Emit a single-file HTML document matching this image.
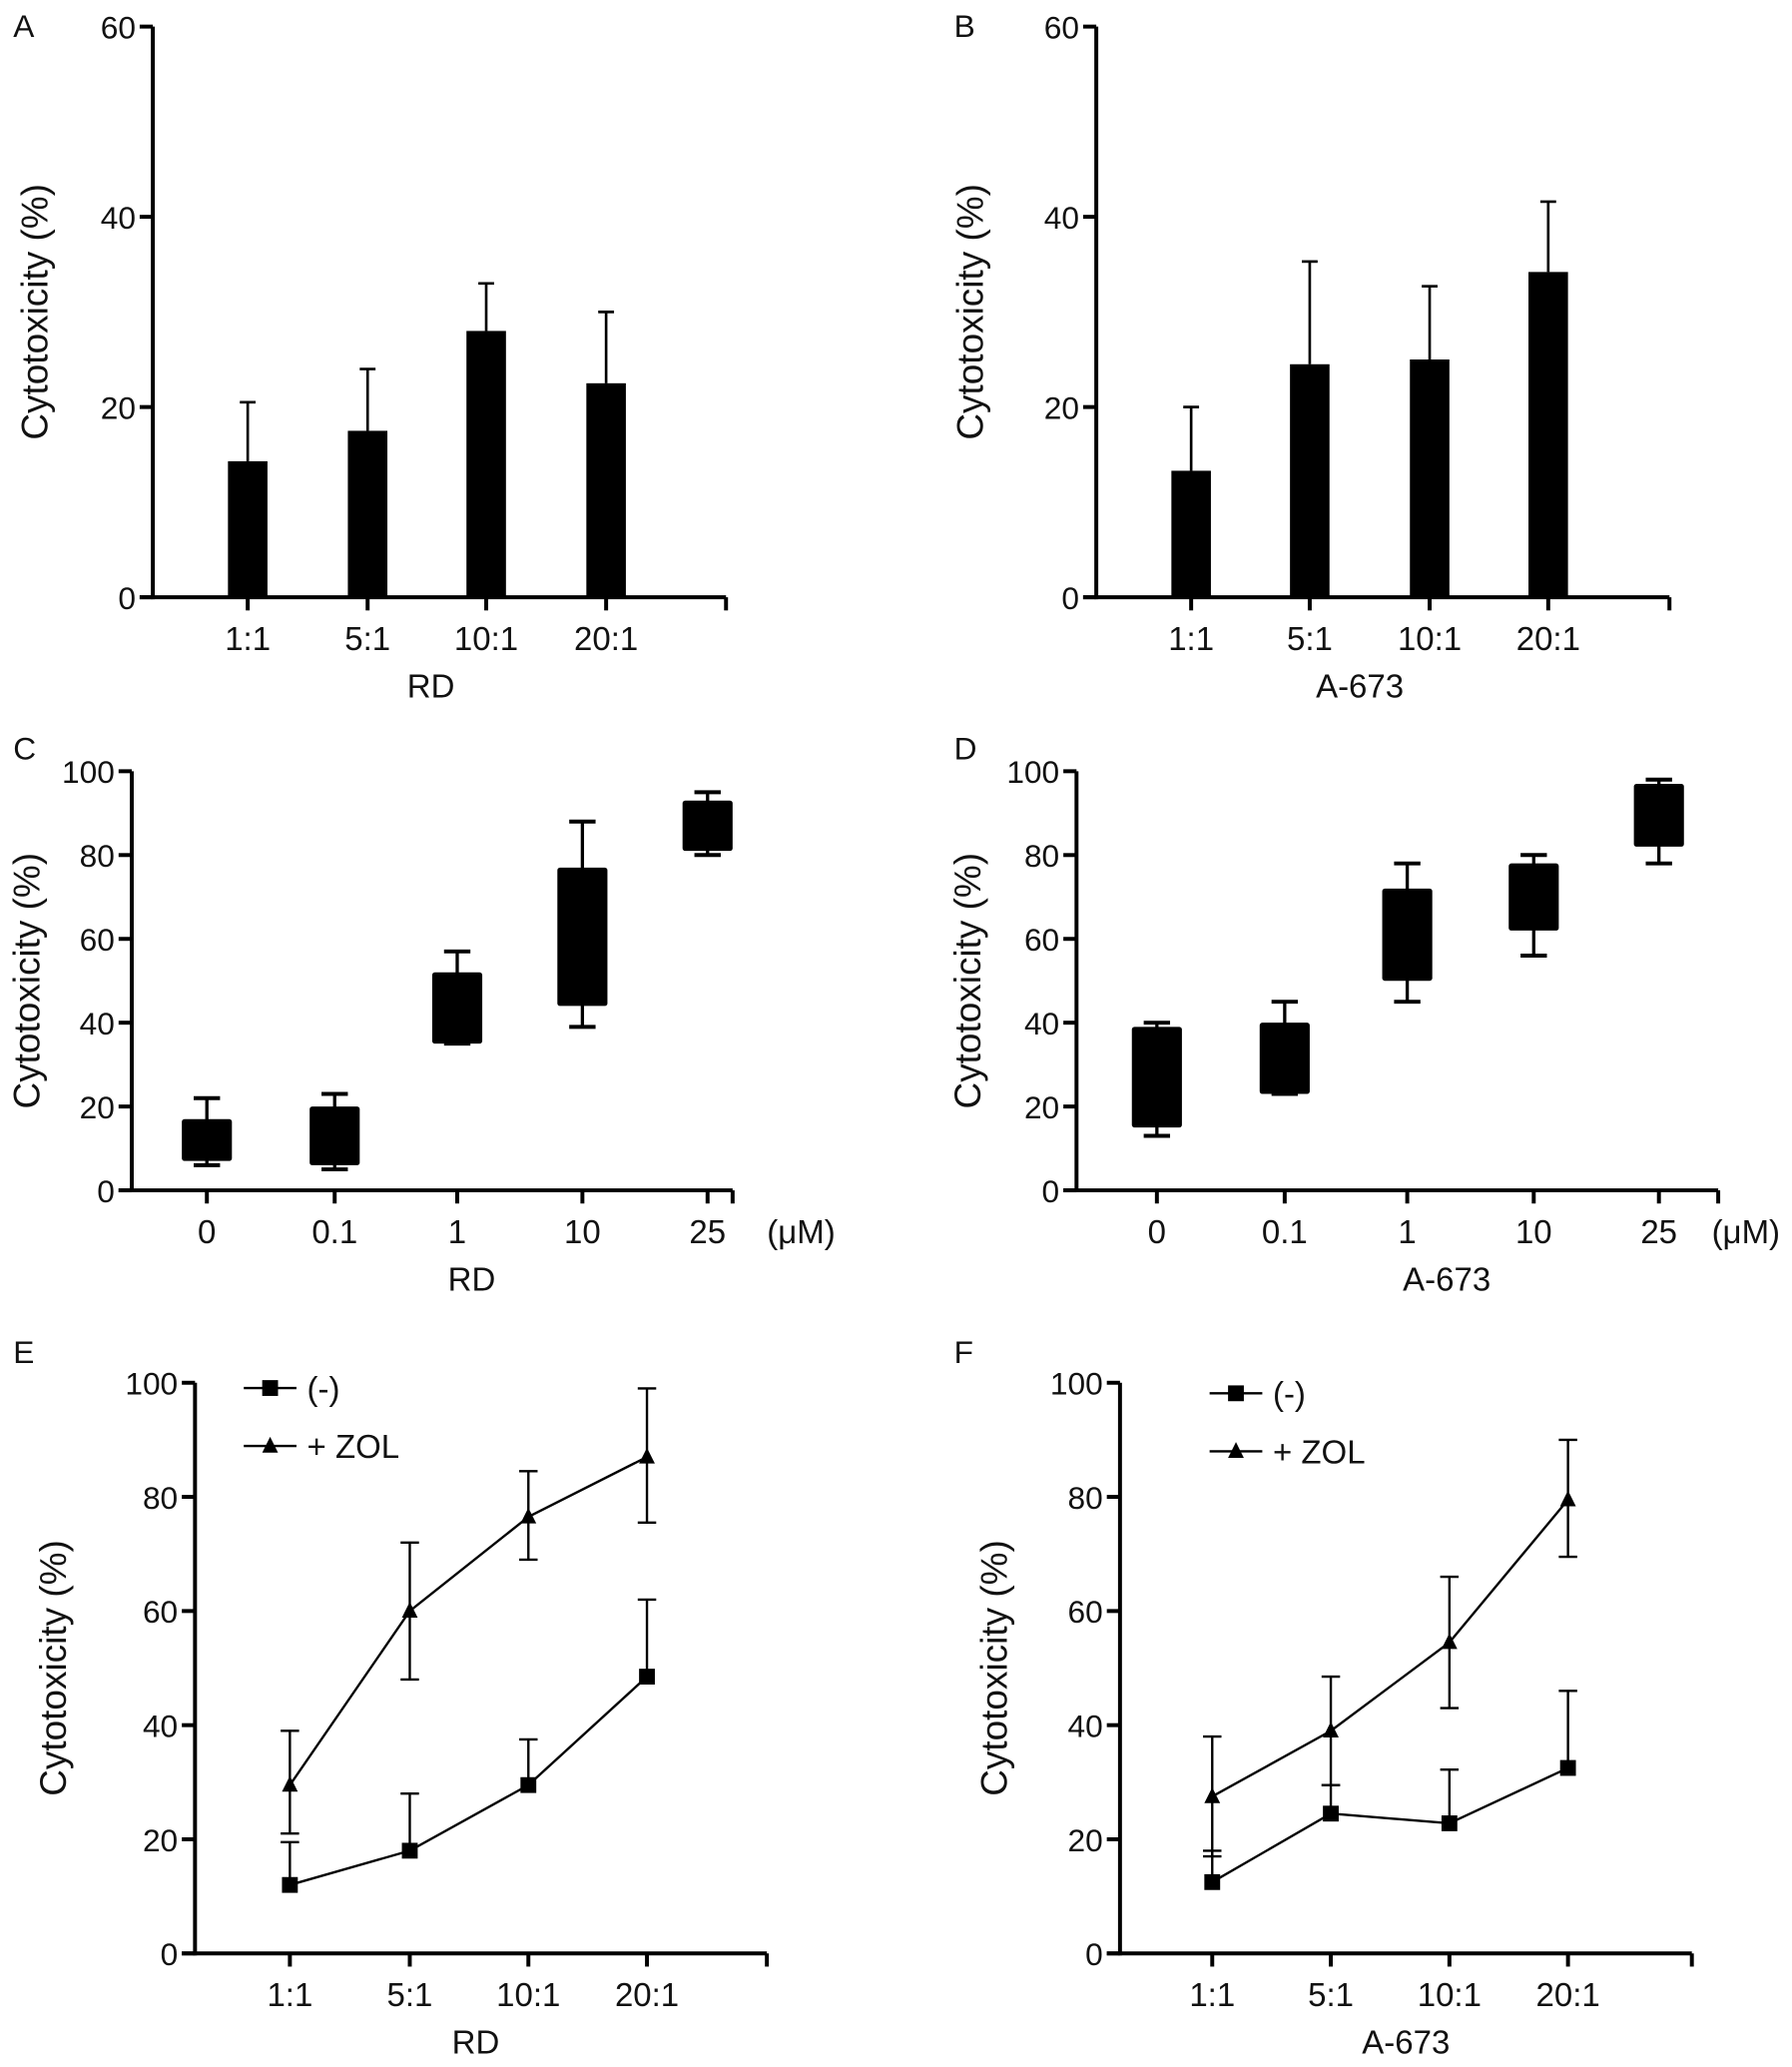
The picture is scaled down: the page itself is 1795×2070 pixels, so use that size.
<!DOCTYPE html>
<html><head><meta charset="utf-8"><style>
html,body{margin:0;padding:0;background:#fff}
svg{display:block}
text{font-family:"Liberation Sans",Arial,sans-serif;fill:#111}
</style></head><body>
<svg id="fig" width="1795" height="2070" viewBox="0 0 1360 1568" xmlns="http://www.w3.org/2000/svg"></svg>
<script>
const ratioCats = ["1:1","5:1","10:1","20:1"];
const doseCats = ["0","0.1","1","10","25"];
const barA = [14.3,17.5,28,22.5];
const barAErr = [20.5,24,33,30];
const barB = [13.3,24.5,25,34.2];
const barBErr = [20,35.3,32.7,41.6];
const boxCLow = [7,6,35,44,81];
const boxCHigh = [17,20,52,77,93];
const whiskCLow = [6,5,35,39,80];
const whiskCHigh = [22,23,57,88,95];
const boxDLow = [15,23,50,62,82];
const boxDHigh = [39,40,72,78,97];
const whiskDLow = [13,23,45,56,78];
const whiskDHigh = [40,45,78,80,98];
const lineENeg = [12,18,29.5,48.5];
const lineENegErr = [19.5,28,37.5,62];
const lineEZol = [29.5,60,76.5,87];
const lineEZolLo = [21,48,69,75.5];
const lineEZolHi = [39,72,84.5,99];
const lineFNeg = [12.5,24.5,22.8,32.5];
const lineFNegErr = [18,29.5,32.2,46];
const lineFZol = [27.5,39,54.5,79.5];
const lineFZolLo = [17,29.5,43,69.5];
const lineFZolHi = [38,48.5,66,90];
const ticks60 = [0,20,40,60];
const ticks100 = [0,20,40,60,80,100];

const svg = document.getElementById('fig');
const NS = 'http://www.w3.org/2000/svg';
function mk(tag, attrs, parent){
  const e = document.createElementNS(NS, tag);
  for (const k in attrs) e.setAttribute(k, attrs[k]);
  (parent||svg).appendChild(e); return e;
}
function txt(s, x, y, size, anchor, parent){
  const t = mk('text',{x:x,y:y,'font-size':size,'text-anchor':anchor||'middle'},parent);
  t.textContent = s; return t;
}
function axes(p){
  const g = mk('g',{});
  
  
  const y = v => p.y0 - (v/p.max)*(p.y0-p.yTop);
  const x = i => p.cx[i];
  const lab = txt(p.letter, p.lx, p.ly, 24, 'start', g);
  
  
  mk('line',{x1:p.ax,y1:p.yTop,x2:p.ax,y2:p.y0+1.5,stroke:'#000','stroke-width':3},g);
  mk('line',{x1:p.ax-10,y1:p.y0,x2:p.xEnd,y2:p.y0,stroke:'#000','stroke-width':3},g);
  mk('line',{x1:p.xEnd,y1:p.y0,x2:p.xEnd,y2:p.y0+10,stroke:'#000','stroke-width':3},g);
  p.ticks.forEach(v=>{
    mk('line',{x1:p.ax-10,y1:y(v),x2:p.ax,y2:y(v),stroke:'#000','stroke-width':3},g);
    const t = txt(String(v), p.ax-13, y(v)+9, 24, 'end', g);
    
    
  });
  p.cats.forEach((c,i)=>{
    mk('line',{x1:x(i),y1:p.y0,x2:x(i),y2:p.y0+10,stroke:'#000','stroke-width':3},g);
    const t = txt(c, x(i), p.y0+40, 25, 'middle', g);
    
    
  });
  const xt = txt(p.xtitle, p.xtx, p.y0+76, 25, 'middle', g);
  
  
  const yt = txt('Cytotoxicity (%)', 0, 0, 28, 'middle', g);
  yt.setAttribute('transform', 'translate('+p.ytx+','+((p.yTop+p.y0)/2)+') rotate(-90)');
  
  
  if (p.unit){
    const u = txt('(\u03bcM)', p.unitX, p.y0+40, 25, 'middle', g);
    
    
  }
  return {g, x, y};
}
function bars(p, vals, errs){
  const {g,x,y} = axes(p);
  vals.forEach((v,i)=>{
    mk('line',{x1:x(i),y1:y(errs[i]),x2:x(i),y2:y(v),stroke:'#000','stroke-width':2},g);
    mk('line',{x1:x(i)-6,y1:y(errs[i]),x2:x(i)+6,y2:y(errs[i]),stroke:'#000','stroke-width':2},g);
    const r = mk('rect',{x:x(i)-15,y:y(v),width:30,height:y(0)-y(v),fill:'#000'},g);
    
    
  });
}
function boxes(p, lo, hi, wl, wh){
  const {g,x,y} = axes(p);
  lo.forEach((v,i)=>{
    mk('line',{x1:x(i),y1:y(wh[i]),x2:x(i),y2:y(wl[i]),stroke:'#000','stroke-width':2.5},g);
    [wh[i],wl[i]].forEach(w=>mk('line',{x1:x(i)-10,y1:y(w),x2:x(i)+10,y2:y(w),stroke:'#000','stroke-width':3},g));
    const r = mk('rect',{x:x(i)-19,y:y(hi[i]),width:38,height:y(v)-y(hi[i]),fill:'#000',rx:2},g);
    
    
  });
}
function lines(p, neg, negErr, zol, zLo, zHi){
  const {g,x,y} = axes(p);
  zol.forEach((v,i)=>{
    mk('line',{x1:x(i),y1:y(zHi[i]),x2:x(i),y2:y(zLo[i]),stroke:'#000','stroke-width':1.8},g);
    [zHi[i],zLo[i]].forEach(w=>mk('line',{x1:x(i)-7,y1:y(w),x2:x(i)+7,y2:y(w),stroke:'#000','stroke-width':1.8},g));
  });
  neg.forEach((v,i)=>{
    mk('line',{x1:x(i),y1:y(negErr[i]),x2:x(i),y2:y(v),stroke:'#000','stroke-width':1.8},g);
    mk('line',{x1:x(i)-7,y1:y(negErr[i]),x2:x(i)+7,y2:y(negErr[i]),stroke:'#000','stroke-width':1.8},g);
  });
  const l1 = mk('polyline',{points:neg.map((v,i)=>x(i)+','+y(v)).join(' '),fill:'none',stroke:'#000','stroke-width':1.8},g);
  
  
  const l2 = mk('polyline',{points:zol.map((v,i)=>x(i)+','+y(v)).join(' '),fill:'none',stroke:'#000','stroke-width':1.8},g);
  
  
  const sq = (cx,cy)=>{const r=mk('rect',{x:cx-6,y:cy-6,width:12,height:12,fill:'#000'},g);};
  const tri = (cx,cy)=>{const r=mk('polygon',{points:(cx)+','+(cy-7)+' '+(cx-6)+','+(cy+5)+' '+(cx+6)+','+(cy+5),fill:'#000'},g);};
  neg.forEach((v,i)=>sq(x(i),y(v)));
  zol.forEach((v,i)=>tri(x(i),y(v)));
  const lg = mk('g',{},g);
  
  
  mk('line',{x1:p.legX,y1:p.legY,x2:p.legX+40,y2:p.legY,stroke:'#000','stroke-width':1.8},lg);
  mk('rect',{x:p.legX+14,y:p.legY-6,width:12,height:12,fill:'#000'},lg);
  txt('(-)', p.legX+48, p.legY+9, 25, 'start', lg);
  mk('line',{x1:p.legX,y1:p.legY+44,x2:p.legX+40,y2:p.legY+44,stroke:'#000','stroke-width':1.8},lg);
  mk('polygon',{points:(p.legX+20)+','+(p.legY+37)+' '+(p.legX+14)+','+(p.legY+49)+' '+(p.legX+26)+','+(p.legY+49),fill:'#000'},lg);
  txt('+ ZOL', p.legX+48, p.legY+53, 25, 'start', lg);
}
bars({letter:'A',lx:10,ly:28,ax:116,yTop:20,y0:453,max:60,xEnd:551,ticks:ticks60,cats:ratioCats,cx:[188,279,369,460],xtitle:'RD',xtx:327,ytx:36},barA,barAErr);
bars({letter:'B',lx:724,ly:28,ax:832,yTop:20,y0:453,max:60,xEnd:1267,ticks:ticks60,cats:ratioCats,cx:[904,994,1085,1175],xtitle:'A-673',xtx:1032,ytx:746},barB,barBErr);
boxes({letter:'C',lx:10,ly:576,ax:100,yTop:585,y0:903,max:100,xEnd:556,ticks:ticks100,cats:doseCats,cx:[157,254,347,442,537],xtitle:'RD',xtx:358,ytx:30,unit:true,unitX:608},boxCLow,boxCHigh,whiskCLow,whiskCHigh);
boxes({letter:'D',lx:724,ly:576,ax:817,yTop:585,y0:903,max:100,xEnd:1304,ticks:ticks100,cats:doseCats,cx:[878,975,1068,1164,1259],xtitle:'A-673',xtx:1098,ytx:744,unit:true,unitX:1325},boxDLow,boxDHigh,whiskDLow,whiskDHigh);
lines({letter:'E',lx:10,ly:1034,ax:148,yTop:1049,y0:1482,max:100,xEnd:582,ticks:ticks100,cats:ratioCats,cx:[220,311,401,491],xtitle:'RD',xtx:361,ytx:50,legX:185,legY:1053},lineENeg,lineENegErr,lineEZol,lineEZolLo,lineEZolHi);
lines({letter:'F',lx:724,ly:1034,ax:850,yTop:1049,y0:1482,max:100,xEnd:1284,ticks:ticks100,cats:ratioCats,cx:[920,1010,1100,1190],xtitle:'A-673',xtx:1067,ytx:764,legX:918,legY:1057},lineFNeg,lineFNegErr,lineFZol,lineFZolLo,lineFZolHi);
</script>
</body></html>
